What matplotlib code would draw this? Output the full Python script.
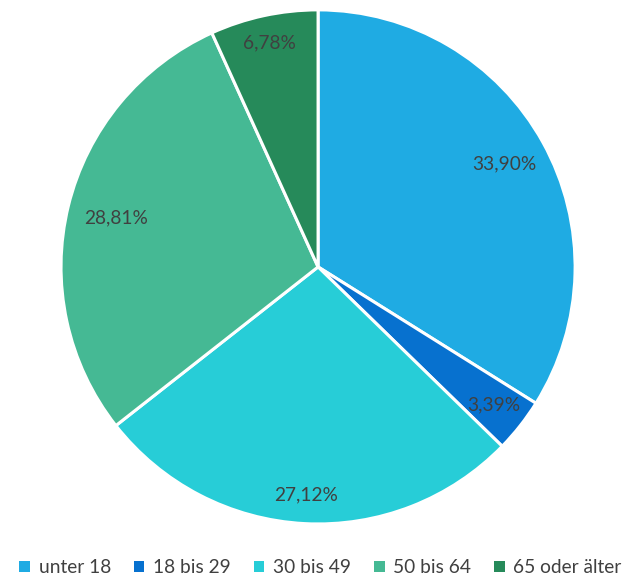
import matplotlib
matplotlib.use("Agg")
import matplotlib.pyplot as plt
import numpy as np
from matplotlib.patches import Patch

categories = ["unter 18", "18 bis 29", "30 bis 49", "50 bis 64", "65 oder älter"]
values = [33.90, 3.39, 27.12, 28.81, 6.78]
labels = ["33,90%", "3,39%", "27,12%", "28,81%", "6,78%"]
colors = ["#1FABE3", "#0771CF", "#27CDD7", "#45B994", "#268A5A"]
label_r = [0.83, 0.87, 0.89, 0.81, 0.89]

plt.rcParams['font.family'] = ['Lato', 'DejaVu Sans']

fig = plt.figure(figsize=(6.41, 5.79), dpi=100)
ax = fig.add_axes([0.0952, 0.095, 0.802, 0.888])
wedges, _ = ax.pie(values, colors=colors, startangle=90, counterclock=False,
                   wedgeprops=dict(edgecolor="white", linewidth=2.2), radius=1.0)
ax.set_xlim(-1, 1)
ax.set_ylim(-1, 1)
ax.set_aspect("equal")

for w, lab, r in zip(wedges, labels, label_r):
    ang = np.deg2rad((w.theta1 + w.theta2) / 2)
    ax.text(r * np.cos(ang), r * np.sin(ang), lab, ha="center", va="center",
            fontsize=13.8, color="#404040")

handles = [Patch(facecolor=c, edgecolor="none") for c in colors]
fig.legend(handles, categories, loc="lower center", ncol=5, frameon=False,
           bbox_to_anchor=(0.5, -0.025), fontsize=13.8, handlelength=0.55,
           handleheight=0.55, handletextpad=0.45, columnspacing=1.2,
           labelcolor="#404040")

fig.savefig("out.png", dpi=100)
